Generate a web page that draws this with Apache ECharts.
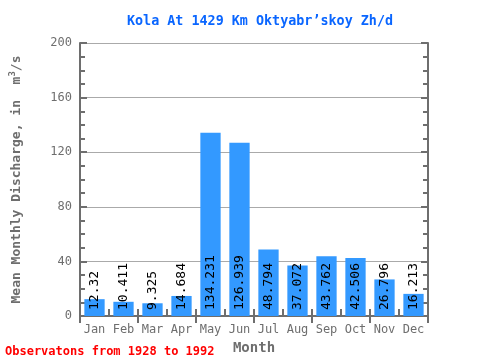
<!DOCTYPE html>
<html><head><meta charset="utf-8">
<script src="https://cdn.jsdelivr.net/npm/echarts@6/dist/echarts.min.js"></script>
<style>html,body{margin:0;padding:0;background:#fff}#c{width:480px;height:360px}</style>
</head><body><div id="c"></div>
<script>
const months = ['Jan','Feb','Mar','Apr','May','Jun','Jul','Aug','Sep','Oct','Nov','Dec'];
const discharge = [12.32, 10.411, 9.325, 14.684, 134.231, 126.939, 48.794, 37.072, 43.762, 42.506, 26.796, 16.213];
const yTicks = [0, 40, 80, 120, 160, 200];

const F = 'DejaVu Sans Mono, monospace';
const axisCol = '#6e6e6e';
const chart = echarts.init(document.getElementById('c'), null, {renderer:'canvas'});
const common = {
  axisLine:{show:true, lineStyle:{color:axisCol, width:2}},
};
chart.setOption({
  animation:false,
  title:{text:'Kola At 1429 Km Oktyabr’skoy Zh/d', left:255, top:10, textAlign:'center',
    textStyle:{fontFamily:F, fontSize:13.4, fontWeight:'bold', color:'#0a66ff'}},
  graphic:[{type:'text', left:5, top:346, style:{text:'Observatons from 1928 to 1992', fill:'#ff0000', font:'bold 12px '+F}}],
  grid:{left:79, right:52, top:43, bottom:39},
  xAxis:[
    Object.assign({type:'category', data:months, position:'bottom',
      axisTick:{show:true, inside:true, length:7, lineStyle:{color:axisCol, width:2}},
      axisLabel:{fontFamily:F, fontSize:12, color:axisCol, margin:8},
      name:'Month', nameLocation:'middle', nameGap:25,
      nameTextStyle:{fontFamily:F, fontSize:14, fontWeight:'bold', color:axisCol}}, common),
    Object.assign({type:'category', data:months, position:'top',
      axisTick:{show:true, inside:true, length:7, lineStyle:{color:axisCol, width:2}},
      axisLabel:{show:false}}, common)
  ],
  yAxis:[
    Object.assign({type:'value', min:yTicks[0], max:yTicks[yTicks.length-1], interval:40, position:'left',
      axisTick:{show:true, inside:true, length:7, lineStyle:{color:axisCol, width:2}},
      minorTick:{show:true, splitNumber:4, length:5, lineStyle:{color:axisCol, width:2}},
      splitLine:{show:true, lineStyle:{color:'#aaa', width:1}},
      axisLabel:{fontFamily:F, fontSize:12, color:axisCol, margin:8},
      name:'Mean Monthly Discharge, in  m{sup|3}/s', nameLocation:'middle', nameGap:55,
      nameTextStyle:{fontFamily:F, fontSize:13, fontWeight:'bold', color:axisCol,
        rich:{sup:{fontFamily:F, fontSize:9, fontWeight:'bold', color:axisCol, verticalAlign:'top', padding:[0,0,8,0]}}}}, common),
    Object.assign({type:'value', min:yTicks[0], max:yTicks[yTicks.length-1], interval:40, position:'right',
      axisTick:{show:true, inside:true, length:7, lineStyle:{color:axisCol, width:2}},
      minorTick:{show:true, splitNumber:4, length:5, lineStyle:{color:axisCol, width:2}},
      splitLine:{show:false}, axisLabel:{show:false}}, common)
  ],
  series:[{type:'bar', data:discharge, barWidth:'70%', itemStyle:{color:'#3399ff'},
    label:{show:true, position:'insideBottom', rotate:90, align:'left', verticalAlign:'middle', distance:6,
      fontFamily:F, fontSize:13, color:'#000', formatter:p=>String(p.value)}}]
});
</script></body></html>
